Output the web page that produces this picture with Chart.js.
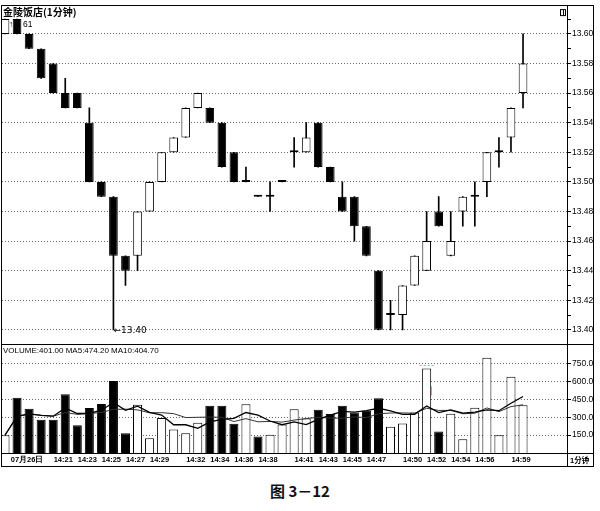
<!DOCTYPE html>
<html>
<head>
<meta charset="utf-8">
<script src="https://cdn.jsdelivr.net/npm/chart.js@4"></script>
<style>
  body { margin: 0; background: #fff; }
  #wrap { position: relative; width: 600px; height: 468px; }
  #cap { width: 600px; text-align: center; font: bold 15px 'Noto Sans CJK SC', sans-serif; margin-top: 12px; color: #111; }
</style>
</head>
<body>
<div id="wrap"><canvas id="kChart"></canvas></div>
<div id="cap">图 3－12</div>
<script>
// 金陵饭店 1-minute bars, 07-26 14:16 - 14:59
const minutes = ['14:16','14:17','14:18','14:19','14:20','14:21','14:22','14:23','14:24','14:25',
  '14:26','14:27','14:28','14:29','14:30','14:31','14:32','14:33','14:34','14:35',
  '14:36','14:37','14:38','14:39','14:40','14:41','14:42','14:43','14:44','14:45',
  '14:46','14:47','14:48','14:49','14:50','14:51','14:52','14:53','14:54','14:55',
  '14:56','14:57','14:58','14:59'];
const opens = [13.60,13.61,13.60,13.59,13.58,13.56,13.56,13.54,13.50,13.49,
  13.45,13.45,13.48,13.50,13.52,13.53,13.55,13.55,13.54,13.52,
  13.50,13.49,13.49,13.50,13.52,13.52,13.54,13.51,13.49,13.49,
  13.47,13.44,13.41,13.41,13.43,13.44,13.48,13.45,13.48,13.49,
  13.50,13.52,13.53,13.56];
const highs = [13.61,13.61,13.60,13.59,13.58,13.57,13.56,13.55,13.50,13.49,
  13.45,13.48,13.50,13.52,13.53,13.55,13.56,13.55,13.54,13.52,
  13.51,13.49,13.50,13.50,13.53,13.54,13.54,13.51,13.50,13.49,
  13.47,13.44,13.42,13.43,13.45,13.48,13.49,13.48,13.49,13.50,
  13.52,13.53,13.55,13.60];
const lows = [13.60,13.60,13.59,13.57,13.56,13.55,13.55,13.50,13.49,13.40,
  13.43,13.44,13.48,13.50,13.52,13.53,13.55,13.54,13.51,13.50,
  13.50,13.49,13.48,13.50,13.51,13.52,13.51,13.50,13.48,13.46,
  13.45,13.40,13.40,13.40,13.43,13.44,13.47,13.45,13.47,13.47,
  13.49,13.51,13.52,13.55];
const closes = [13.61,13.60,13.59,13.57,13.56,13.55,13.55,13.50,13.49,13.45,
  13.44,13.48,13.50,13.52,13.53,13.55,13.56,13.54,13.51,13.50,
  13.50,13.49,13.49,13.50,13.52,13.53,13.51,13.50,13.48,13.47,
  13.45,13.40,13.41,13.43,13.45,13.46,13.47,13.46,13.49,13.49,
  13.52,13.52,13.55,13.58];
const volumes = [150,464,371,280,280,494,233,377,412,604,
  165,404,124,294,198,165,253,396,396,245,
  410,138,154,239,368,290,363,327,396,341,
  354,459,220,247,340,710,180,330,116,380,
  800,150,640,401];

const priceTicks = ['13.40','13.42','13.44','13.46','13.48','13.50','13.52','13.54','13.56','13.58','13.60'];
const volTicks = ['150.0','300.0','450.0','600.0','750.0'];
const dateLabel = '07月26日';
const shownTimes = ['14:21','14:23','14:25','14:27','14:29','14:32','14:34','14:36','14:38',
  '14:41','14:43','14:45','14:47','14:50','14:52','14:54','14:56','14:59'];

function movingAvg(vals, n) {
  return vals.map((_, i) => {
    const w = vals.slice(Math.max(0, i - n + 1), i + 1);
    return w.reduce((s, v) => s + v, 0) / w.length;
  });
}
const ma5 = movingAvg(volumes, 5);
const ma10 = movingAvg(volumes, 10);

function isUp(i) {
  if (closes[i] !== opens[i]) return closes[i] > opens[i];
  return i === 0 || closes[i] >= closes[i - 1];
}

const last = volumes.length - 1;
const volTitle = 'VOLUME:' + volumes[last].toFixed(2) + ' MA5:' + ma5[last].toFixed(2) + ' MA10:' + ma10[last].toFixed(2);

// price ticks plus the small unlabelled ticks in between
const priceTickVals = [];
priceTicks.forEach(t => { priceTickVals.push(+t - 0.01, +t); });
priceTickVals.push(13.61);
const dateIdx = 2;
const timeIdx = [dateIdx].concat(shownTimes.map(t => minutes.indexOf(t)));

Chart.defaults.font.family = "'Liberation Sans', Arial, sans-serif";
Chart.defaults.color = '#000';

const decor = {
  id: 'decor',
  afterDraw(chart) {
    const { ctx, chartArea: a, scales: { x, y, yv } } = chart;
    const R = 593;
    const hl = (x1, x2, yy) => { ctx.moveTo(x1, Math.round(yy) + 0.5); ctx.lineTo(x2, Math.round(yy) + 0.5); };
    const vl = (xx, y1, y2) => { ctx.moveTo(Math.round(xx) + 0.5, y1); ctx.lineTo(Math.round(xx) + 0.5, y2); };
    ctx.save();
    ctx.strokeStyle = '#000';
    ctx.lineWidth = 1;
    ctx.beginPath();
    hl(a.left, R + 1, a.top - 1);
    hl(a.left, R + 1, y.bottom);
    hl(a.left, R + 1, a.bottom);
    hl(a.left, R + 1, x.bottom);
    vl(a.left - 1, a.top - 1, x.bottom + 1);
    vl(a.right, a.top - 1, x.bottom + 1);
    vl(R, a.top - 1, x.bottom + 1);
    ctx.stroke();

    // texts
    ctx.fillStyle = '#000';
    ctx.textBaseline = 'alphabetic';
    ctx.textAlign = 'left';
    ctx.font = "bold 10px 'Noto Sans CJK SC', sans-serif";
    ctx.fillText('金陵饭店(1分钟)', a.left + 1, a.top + 10);
    ctx.font = "8px 'Liberation Sans', Arial, sans-serif";
    ctx.fillText(volTitle, a.left + 1, y.bottom + 9);
    ctx.font = "bold 7.5px 'Liberation Sans', 'Noto Sans CJK SC', sans-serif";
    ctx.fillText('1分钟', a.right + 3, x.bottom - 3);
    ctx.font = "8.5px 'Liberation Sans', Arial, sans-serif";
    ctx.fillText('61', x.getPixelForValue(1) + 6, y.getPixelForValue(highs[1]) + 8);
    ctx.fillText('↑', x.getPixelForValue(0) + 4, y.getPixelForValue(highs[0]) + 8);
    ctx.textBaseline = 'middle';
    ctx.font = "9px 'DejaVu Sans', 'Liberation Sans', sans-serif";
    ctx.fillText('←13.40', x.getPixelForValue(9), y.getPixelForValue(lows[9]) + 1);

    // small window icon top right
    ctx.strokeRect(a.right - 6.5, a.top + 3.5, 5, 6);
    ctx.beginPath(); vl(a.right - 4, a.top + 4, a.top + 9); ctx.stroke();

    // cursor mark on the 14:51 volume bar
    const mx = x.getPixelForValue(35), my = yv.getPixelForValue(volumes[35]);
    ctx.strokeStyle = '#e09090';
    ctx.setLineDash([2, 2]);
    ctx.beginPath(); hl(mx - 7, mx + 7, my - 3); ctx.stroke();
    ctx.setLineDash([]);
    ctx.beginPath(); vl(mx + 4, my + 18, my + 27); ctx.stroke();
    ctx.restore();
  }
};

const bodyData = minutes.map((m, i) => ({ x: i, y: [opens[i], closes[i]] }));
const wickData = minutes.map((m, i) => ({ x: i, y: [lows[i], highs[i]] }));
const volData = minutes.map((m, i) => ({ x: i, y: volumes[i] }));

const config = {
  type: 'bar',
  data: {
    datasets: [
      {
        type: 'line', label: 'MA5', data: ma5.map((v, i) => ({ x: i, y: v })),
        yAxisID: 'yv', borderColor: '#000', borderWidth: 1.3, pointRadius: 0, tension: 0
      },
      {
        type: 'line', label: 'MA10', data: ma10.map((v, i) => ({ x: i, y: v })),
        yAxisID: 'yv', borderColor: '#333', borderWidth: 1, pointRadius: 0, tension: 0
      },
      {
        label: 'body', data: bodyData, yAxisID: 'y', grouped: false,
        backgroundColor: minutes.map((m, i) => isUp(i) ? '#fff' : '#000'),
        borderColor: '#000', borderWidth: 1, borderSkipped: false, minBarLength: 2,
        barPercentage: 0.72, categoryPercentage: 1
      },
      {
        label: 'wick', data: wickData, yAxisID: 'y', grouped: false,
        backgroundColor: '#000', borderWidth: 0, barThickness: 1
      },
      {
        label: 'volume', data: volData, yAxisID: 'yv', grouped: false,
        backgroundColor: minutes.map((m, i) => isUp(i) ? '#fff' : '#000'),
        borderColor: '#000', borderWidth: 1, borderSkipped: 'start',
        barPercentage: 0.75, categoryPercentage: 1
      }
    ]
  },
  options: {
    responsive: true,
    maintainAspectRatio: false,
    animation: false,
    layout: { padding: { left: 2, top: 3, right: 7, bottom: 2 } },
    plugins: { legend: { display: false }, tooltip: { enabled: false } },
    scales: {
      x: {
        type: 'linear', min: -0.25, max: 46.65, offset: false,
        grid: { display: false, drawTicks: false, tickLength: 0, offset: false },
        border: { display: true, color: '#000' },
        afterBuildTicks: s => { s.ticks = timeIdx.map(v => ({ value: v })); },
        afterFit: s => { s.height = 13; },
        ticks: {
          autoSkip: false, maxRotation: 0, align: 'center', labelOffset: -2, padding: 2,
          font: { size: 7.5, weight: 'bold' },
          color: '#000',
          callback: v => v === dateIdx ? dateLabel : minutes[v]
        }
      },
      y: {
        position: 'right', stack: 'k', stackWeight: 340,
        min: 13.3906, max: 13.6188,
        afterBuildTicks: s => { s.ticks = priceTickVals.map(v => ({ value: v })); },
        afterFit: s => { s.width = 26; },
        grid: {
          color: c => priceTicks.includes(c.tick.value.toFixed(2)) ? '#666' : 'rgba(0,0,0,0)',
          tickColor: '#000', tickLength: 4, lineWidth: 1
        },
        border: { color: '#000', dash: [1, 2] },
        ticks: {
          autoSkip: false, padding: 1, font: { size: 8.5 }, color: '#000',
          callback: v => priceTicks.includes(v.toFixed(2)) ? v.toFixed(2) : ''
        }
      },
      yv: {
        position: 'right', stack: 'k', stackWeight: 110,
        min: 0, max: 917,
        afterBuildTicks: s => { s.ticks = volTicks.map(v => ({ value: +v })); },
        afterFit: s => { s.width = 26; },
        grid: { color: '#666', tickColor: '#000', tickLength: 4, lineWidth: 1 },
        border: { color: '#000', dash: [1, 2] },
        ticks: {
          autoSkip: false, padding: 1, font: { size: 8.5 }, color: '#000',
          callback: v => (+v).toFixed(1)
        }
      }
    }
  },
  plugins: [decor]
};

const ctx = document.getElementById('kChart');
const kChart = new Chart(ctx, config);
</script>
</body>
</html>
